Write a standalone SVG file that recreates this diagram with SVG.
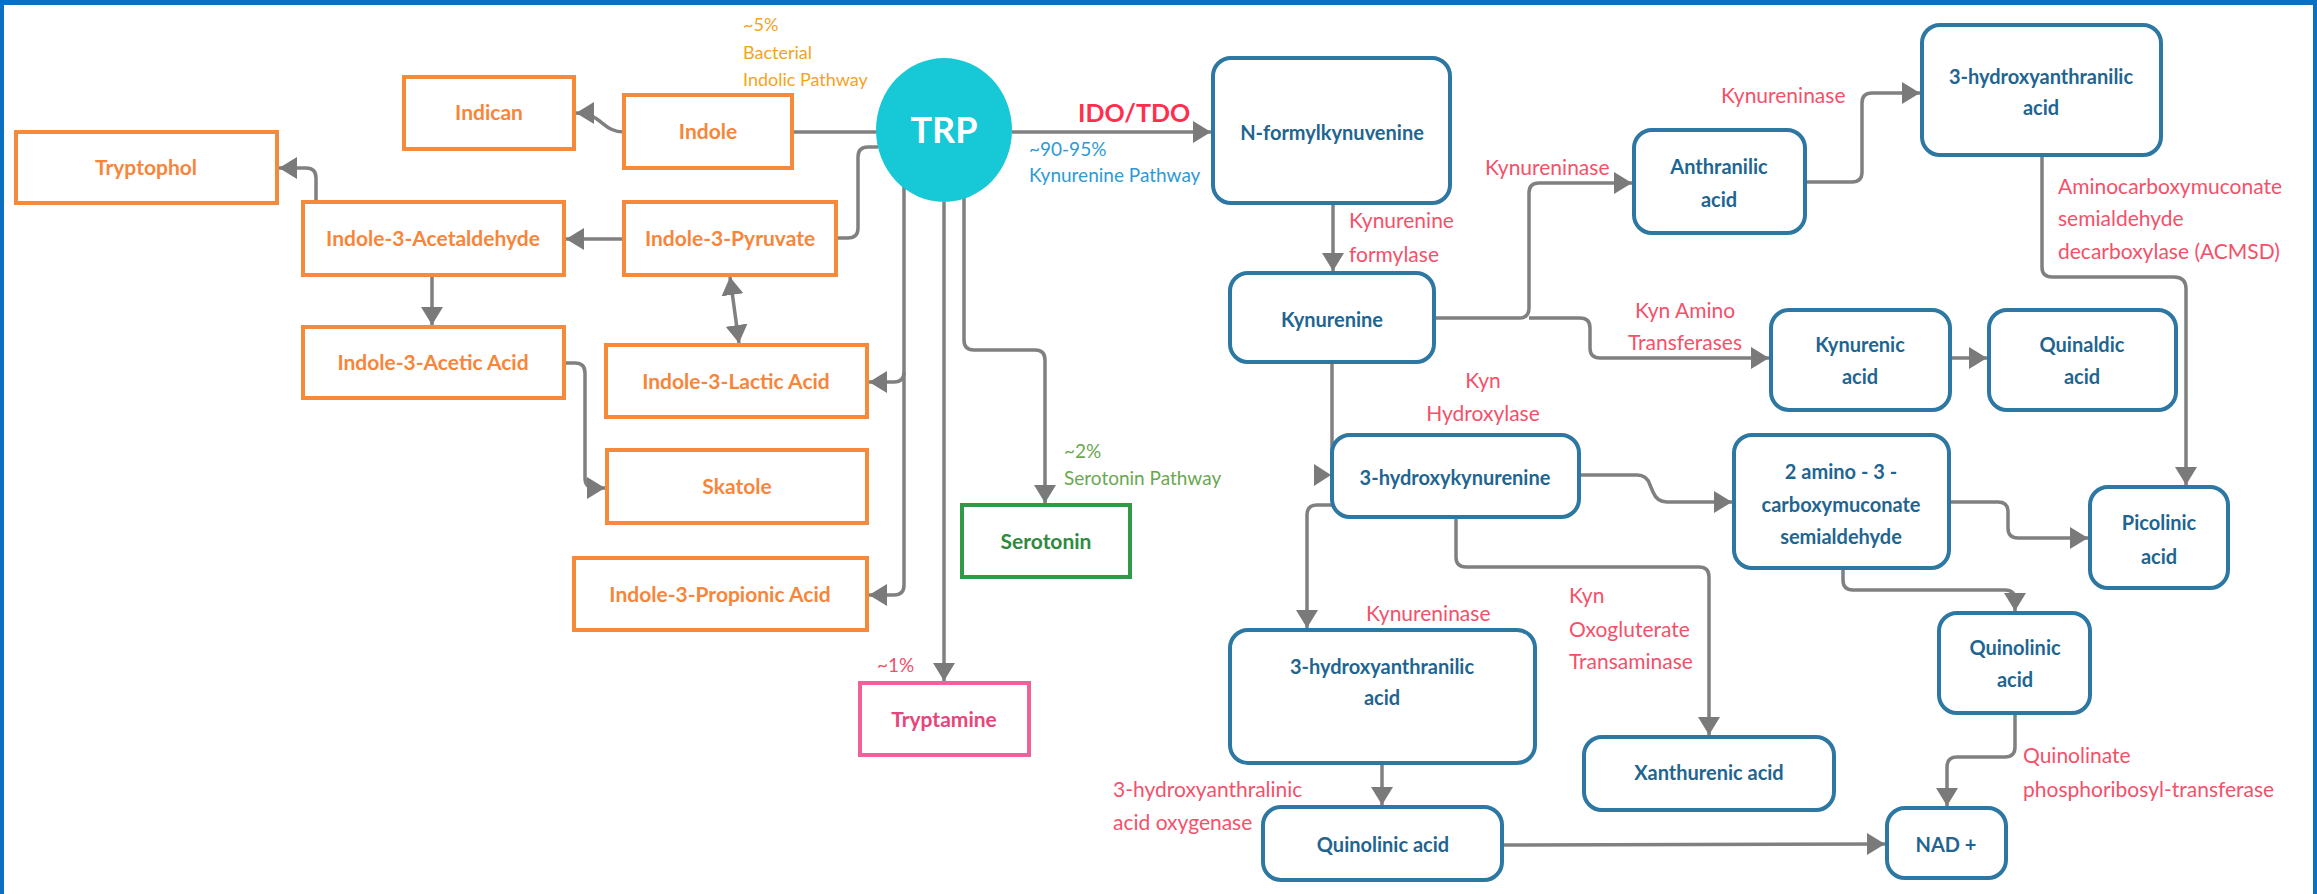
<svg xmlns="http://www.w3.org/2000/svg" width="2317" height="894" viewBox="0 0 2317 894">
<style>
.ob{fill:#fff;stroke:#f7893b;stroke-width:4}
.ot{fill:#f7853a;font-family:Lato,"Liberation Sans",sans-serif;font-size:21px;font-weight:bold;text-anchor:middle}
.bb{fill:#fff;stroke:#2d77a3;stroke-width:4}
.bt{fill:#1f6591;font-family:Lato,"Liberation Sans",sans-serif;font-size:20px;font-weight:bold;text-anchor:middle}
.c{fill:none;stroke:#808080;stroke-width:3.5}
.a{marker-end:url(#ah)}
.lb{font-family:Lato,"Liberation Sans",sans-serif;font-size:21px}
.red{fill:#f5506a}
</style>
<defs>
<marker id="ah" markerUnits="userSpaceOnUse" markerWidth="20" markerHeight="24" refX="18" refY="11" orient="auto-start-reverse">
<path d="M0,0 L18,11 L0,22 z" fill="#7a7a7a"/>
</marker>
</defs>
<rect x="0" y="0" width="2317" height="894" fill="#fff"/>
<g id="frame" fill="#0b6fc2">
<rect x="0" y="0" width="2317" height="5"/>
<rect x="0" y="0" width="4" height="894"/>
<rect x="2313" y="0" width="4" height="894"/>
</g>
<g id="connectors">
<path class="c a" d="M624,132 C602,132 602,113 576,113"/>
<path class="c" d="M792,132 L878,132"/>
<path class="c" d="M878,147 L868,147 Q858,147 858,157 L858,228 Q858,238 848,238 L836,238"/>
<path class="c a" d="M624,239 L566,239"/>
<path class="c a" d="M316,202 L316,178 Q316,168 306,168 L279,168"/>
<path class="c a" d="M432,275 L432,325"/>
<path class="c a" d="M564,363 L575,363 Q585,363 585,373 L585,478 Q585,488 595,488 L605,488"/>
<path class="c" d="M730,277 L739,343" marker-start="url(#ah)" marker-end="url(#ah)"/>
<path class="c a" d="M904,186 L904,372 Q904,382 894,382 L869,382"/>
<path class="c a" d="M904,372 L904,585 Q904,595 894,595 L869,595"/>
<path class="c a" d="M944,202 L944,681"/>
<path class="c a" d="M964,198 L964,340 Q964,350 974,350 L1035,350 Q1045,350 1045,360 L1045,503"/>
<path class="c a" d="M1012,132 L1211,132"/>
<path class="c a" d="M1333,203 L1333,271"/>
<path class="c a" d="M1434,318 L1519,318 Q1529,318 1529,308 L1529,193 Q1529,183 1539,183 L1632,183"/>
<path class="c a" d="M1529,318 L1580,318 Q1590,318 1590,328 L1590,348 Q1590,358 1600,358 L1769,358"/>
<path class="c" d="M1332,362 L1332,470"/>
<path d="M1314,464 L1331,475 L1314,486 z" fill="#7a7a7a"/>
<path class="c a" d="M1805,182 L1852,182 Q1862,182 1862,172 L1862,103 Q1862,93 1872,93 L1920,93"/>
<path class="c a" d="M2042,155 L2042,267 Q2042,277 2052,277 L2174,277 Q2186,277 2186,289 L2186,485"/>
<path class="c a" d="M1950,358 L1987,358"/>
<path class="c a" d="M1579,475 L1637,475 Q1647,475 1650,485 L1653,492 Q1657,502 1667,502 L1732,502"/>
<path class="c a" d="M1333,505 L1317,505 Q1307,505 1307,515 L1307,628"/>
<path class="c a" d="M1456,517 L1456,557 Q1456,567 1466,567 L1699,567 Q1709,567 1709,577 L1709,735"/>
<path class="c a" d="M1949,502 L1998,502 Q2008,502 2008,512 L2008,528 Q2008,538 2018,538 L2088,538"/>
<path class="c a" d="M1843,568 L1843,580 Q1843,590 1853,590 L2005,590 Q2015,590 2015,600 L2015,611"/>
<path class="c a" d="M2015,713 L2015,747 Q2015,757 2005,757 L1957,757 Q1947,757 1947,767 L1947,806"/>
<path class="c a" d="M1382,763 L1382,805"/>
<path class="c a" d="M1502,845 L1885,844"/>
</g>
<g id="labels" class="lb">
<g fill="#f5a31a" font-size="18">
<text x="743" y="31">~5%</text>
<text x="743" y="59">Bacterial</text>
<text x="743" y="86">Indolic Pathway</text>
</g>
<text x="1078" y="122" fill="#ff2e4e" font-size="25" font-weight="bold">IDO/TDO</text>
<g fill="#2d9ad6" font-size="19">
<text x="1029" y="156">~90-95%</text>
<text x="1029" y="182">Kynurenine Pathway</text>
</g>
<g fill="#6aa84f" font-size="19">
<text x="1064" y="458">~2%</text>
<text x="1064" y="485">Serotonin Pathway</text>
</g>
<text x="877" y="672" fill="#f0506e" font-size="19">~1%</text>
<g class="red">
<text x="1349" y="228">Kynurenine</text>
<text x="1349" y="262">formylase</text>
<text x="1485" y="175">Kynureninase</text>
<text x="1721" y="103">Kynureninase</text>
<text x="1685" y="318" text-anchor="middle">Kyn Amino</text>
<text x="1685" y="350" text-anchor="middle">Transferases</text>
<text x="1483" y="388" text-anchor="middle">Kyn</text>
<text x="1483" y="421" text-anchor="middle">Hydroxylase</text>
<text x="2058" y="194">Aminocarboxymuconate</text>
<text x="2058" y="226">semialdehyde</text>
<text x="2058" y="259">decarboxylase (ACMSD)</text>
<text x="1366" y="621">Kynureninase</text>
<text x="1569" y="603">Kyn</text>
<text x="1569" y="637">Oxogluterate</text>
<text x="1569" y="669">Transaminase</text>
<text x="1113" y="797">3-hydroxyanthralinic</text>
<text x="1113" y="830">acid oxygenase</text>
<text x="2023" y="763">Quinolinate</text>
<text x="2023" y="797">phosphoribosyl-transferase</text>
</g>
</g>
<g id="n-trp">
<ellipse cx="944" cy="130" rx="68" ry="72" fill="#17c8d6"/>
<text x="944" y="143" fill="#fff" font-family="Lato,'Liberation Sans',sans-serif" font-size="36" font-weight="bold" text-anchor="middle">TRP</text>
</g>
<g id="n-tryptophol"><rect class="ob" x="16" y="132" width="261" height="71"/><text class="ot" x="146" y="175">Tryptophol</text></g>
<g id="n-indican"><rect class="ob" x="404" y="77" width="170" height="72"/><text class="ot" x="489" y="120">Indican</text></g>
<g id="n-indole"><rect class="ob" x="624" y="95" width="168" height="73"/><text class="ot" x="708" y="139">Indole</text></g>
<g id="n-acetaldehyde"><rect class="ob" x="303" y="202" width="261" height="73"/><text class="ot" x="433" y="246">Indole-3-Acetaldehyde</text></g>
<g id="n-pyruvate"><rect class="ob" x="624" y="202" width="212" height="73"/><text class="ot" x="730" y="246">Indole-3-Pyruvate</text></g>
<g id="n-acetic"><rect class="ob" x="303" y="327" width="261" height="71"/><text class="ot" x="433" y="370">Indole-3-Acetic Acid</text></g>
<g id="n-lactic"><rect class="ob" x="606" y="345" width="261" height="72"/><text class="ot" x="736" y="389">Indole-3-Lactic Acid</text></g>
<g id="n-skatole"><rect class="ob" x="607" y="450" width="260" height="73"/><text class="ot" x="737" y="494">Skatole</text></g>
<g id="n-propionic"><rect class="ob" x="574" y="558" width="293" height="72"/><text class="ot" x="720" y="602">Indole-3-Propionic Acid</text></g>
<g id="n-serotonin"><rect x="962" y="505" width="168" height="72" fill="#fff" stroke="#2f9a48" stroke-width="4"/><text class="ot" x="1046" y="549" style="fill:#2f8a40">Serotonin</text></g>
<g id="n-tryptamine"><rect x="860" y="683" width="169" height="72" fill="#fff" stroke="#f0609a" stroke-width="4"/><text class="ot" x="944" y="727" style="fill:#e8457a">Tryptamine</text></g>
<g id="n-nformyl"><rect class="bb" x="1213" y="58" width="237" height="145" rx="18"/><text class="bt" x="1332" y="140">N-formylkynuvenine</text></g>
<g id="n-kynurenine"><rect class="bb" x="1230" y="273" width="204" height="89" rx="18"/><text class="bt" x="1332" y="327">Kynurenine</text></g>
<g id="n-anthranilic"><rect class="bb" x="1634" y="130" width="171" height="103" rx="18"/><text class="bt" x="1719" y="174">Anthranilic</text><text class="bt" x="1719" y="207">acid</text></g>
<g id="n-3haa-top"><rect class="bb" x="1922" y="25" width="239" height="130" rx="18"/><text class="bt" x="2041" y="84">3-hydroxyanthranilic</text><text class="bt" x="2041" y="115">acid</text></g>
<g id="n-kynurenic"><rect class="bb" x="1771" y="310" width="179" height="100" rx="18"/><text class="bt" x="1860" y="352">Kynurenic</text><text class="bt" x="1860" y="384">acid</text></g>
<g id="n-quinaldic"><rect class="bb" x="1989" y="310" width="187" height="100" rx="18"/><text class="bt" x="2082" y="352">Quinaldic</text><text class="bt" x="2082" y="384">acid</text></g>
<g id="n-3hk"><rect class="bb" x="1332" y="435" width="247" height="82" rx="18"/><text class="bt" x="1455" y="485">3-hydroxykynurenine</text></g>
<g id="n-acms"><rect class="bb" x="1734" y="435" width="215" height="133" rx="18"/><text class="bt" x="1841" y="479">2 amino - 3 -</text><text class="bt" x="1841" y="512">carboxymuconate</text><text class="bt" x="1841" y="544">semialdehyde</text></g>
<g id="n-picolinic"><rect class="bb" x="2090" y="487" width="138" height="101" rx="18"/><text class="bt" x="2159" y="530">Picolinic</text><text class="bt" x="2159" y="564">acid</text></g>
<g id="n-3haa-bottom"><rect class="bb" x="1230" y="630" width="305" height="133" rx="18"/><text class="bt" x="1382" y="674">3-hydroxyanthranilic</text><text class="bt" x="1382" y="705">acid</text></g>
<g id="n-xanthurenic"><rect class="bb" x="1584" y="737" width="250" height="73" rx="18"/><text class="bt" x="1709" y="780">Xanthurenic acid</text></g>
<g id="n-quinolinic-bottom"><rect class="bb" x="1263" y="807" width="239" height="73" rx="18"/><text class="bt" x="1383" y="852">Quinolinic acid</text></g>
<g id="n-quinolinic-right"><rect class="bb" x="1939" y="613" width="151" height="100" rx="18"/><text class="bt" x="2015" y="655">Quinolinic</text><text class="bt" x="2015" y="687">acid</text></g>
<g id="n-nad"><rect class="bb" x="1887" y="808" width="119" height="70" rx="18"/><text class="bt" x="1946" y="852">NAD +</text></g>
</svg>
